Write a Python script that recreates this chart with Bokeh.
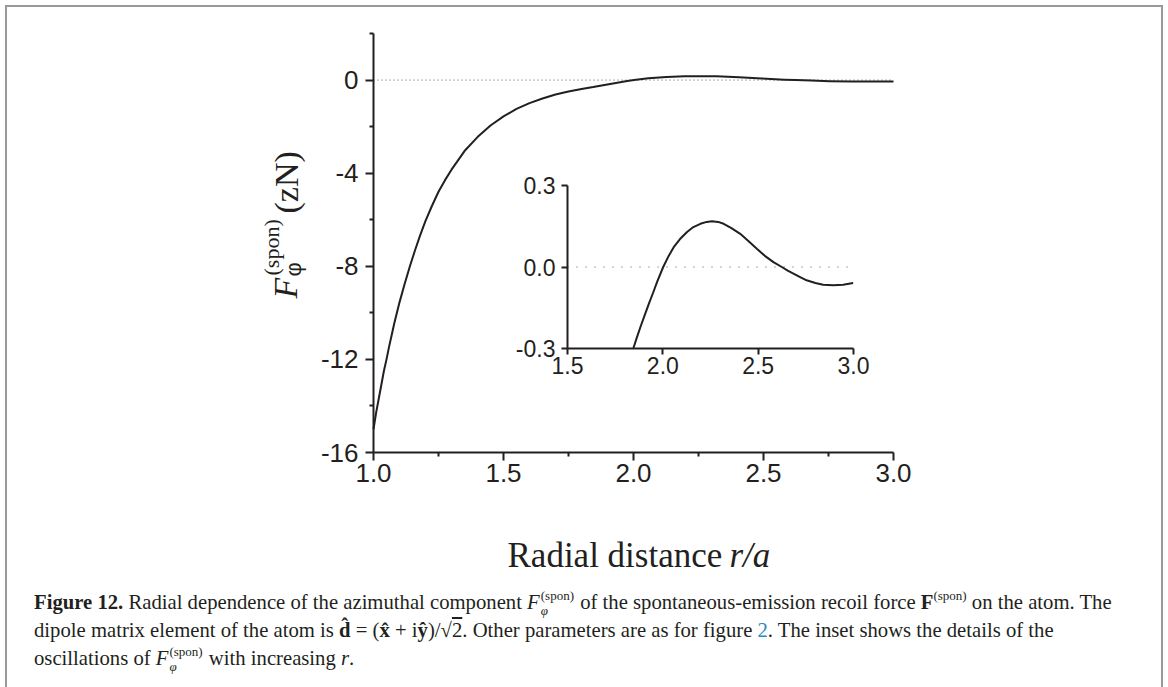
import numpy as np
from bokeh.plotting import figure
from bokeh.models import Range1d, LinearAxis, FixedTicker, PrintfTickFormatter, Label, Div
from bokeh.layouts import column
from bokeh.embed import file_html
from bokeh.resources import INLINE

# ---------------- data ----------------
main_r = [1.00, 1.01, 1.02, 1.03, 1.04, 1.05, 1.06, 1.07, 1.08, 1.09, 1.10, 1.12, 1.14,
          1.16, 1.18, 1.20, 1.225, 1.25, 1.275, 1.30, 1.35, 1.40, 1.45, 1.50, 1.55, 1.60,
          1.65, 1.70, 1.75, 1.80, 1.845, 1.883, 1.927, 1.970, 2.002, 2.057, 2.127, 2.197,
          2.258, 2.319, 2.406, 2.493, 2.580, 2.624, 2.685, 2.754, 2.841, 2.894, 2.946, 3.00]
main_f = [-15.0, -14.3, -13.7, -13.1, -12.5, -12.0, -11.45, -10.95, -10.45, -10.0, -9.55,
          -8.75, -8.0, -7.3, -6.65, -6.05, -5.4, -4.8, -4.3, -3.85, -3.05, -2.45, -1.95, -1.56,
          -1.24, -0.99, -0.79, -0.62, -0.49, -0.38, -0.300, -0.220, -0.135, -0.055, 0.000,
          0.073, 0.129, 0.159, 0.168, 0.159, 0.122, 0.067, 0.018, 0.000, -0.024, -0.049,
          -0.065, -0.067, -0.065, -0.059]

inset_r = [1.845, 1.864, 1.883, 1.905, 1.927, 1.950, 1.970, 2.002, 2.030, 2.057, 2.090,
           2.127, 2.160, 2.197, 2.230, 2.258, 2.290, 2.319, 2.360, 2.406, 2.450, 2.493,
           2.535, 2.580, 2.624, 2.655, 2.685, 2.720, 2.754, 2.800, 2.841, 2.894, 2.946, 2.998]
inset_f = [-0.300, -0.259, -0.220, -0.177, -0.135, -0.093, -0.055, 0.000, 0.040, 0.073,
           0.103, 0.129, 0.147, 0.159, 0.166, 0.168, 0.166, 0.159, 0.143, 0.122, 0.095,
           0.067, 0.041, 0.018, 0.000, -0.013, -0.024, -0.037, -0.049, -0.059, -0.065,
           -0.067, -0.065, -0.059]

main_xticks = [1.0, 1.5, 2.0, 2.5, 3.0]
main_xminor = [1.25, 1.75, 2.25, 2.75]
main_yticks = [-16, -12, -8, -4, 0]
main_yminor = [-14, -10, -6, -2, 2]
inset_xticks = [1.5, 2.0, 2.5, 3.0]
inset_yticks = [-0.3, 0.0, 0.3]

x_title = "Radial distance"
x_title_it = "r/a"
y_title_f = "F"
y_title_sub = "\u03c6"
y_title_sup = "(spon)"
y_title_unit = "(zN)"

# ---------------- layout constants (page pixels) ----------------
INK = "#231f20"
W, H = 1168, 687
OX = 7                                # inside of the grey frame box
FL, FR, FT, FB = 373, 893, 33, 452    # main axes box
IL, IR, IT, IB = 567, 853, 185, 348   # inset axes box
PH = 580
PW = W - 2 * OX

def make_range(v0, c0, v1, c1, length, flip=False):
    # linear map: value v0 at canvas pixel c0, v1 at c1; canvas spans [0, length]
    k = (v1 - v0) / (c1 - c0)
    a = v0 + (0 - c0) * k
    b = v0 + (length - c0) * k
    return Range1d(b, a) if flip else Range1d(a, b)

xr = make_range(main_xticks[0], FL - OX, main_xticks[-1], FR - OX, PW)
yr = make_range(main_yminor[-1], FT - OX, main_yticks[0], FB - OX, PH, flip=True)

def px2x(px):
    return main_xticks[0] + (px - FL) * (main_xticks[-1] - main_xticks[0]) / (FR - FL)

def py2y(py):
    return main_yminor[-1] + (py - FT) * (main_yticks[0] - main_yminor[-1]) / (FB - FT)

p = figure(width=PW, height=PH, x_range=xr, y_range=yr,
           x_axis_location=None, y_axis_location=None,
           output_backend="svg", toolbar_location=None, min_border=0)
p.margin = (0, 0, 0, 0)
for g in p.grid:
    g.visible = False
p.outline_line_color = None
p.background_fill_color = "white"
p.border_fill_color = "white"

def style_axis(ax, fsize, tick_out, minor_out, lw=2):
    ax.axis_line_width = lw
    ax.axis_line_color = INK
    ax.major_tick_line_width = lw
    ax.minor_tick_line_width = lw
    ax.major_tick_line_color = INK
    ax.minor_tick_line_color = INK
    ax.major_tick_out = tick_out
    ax.major_tick_in = 0
    ax.minor_tick_out = minor_out
    ax.minor_tick_in = 0
    ax.major_label_text_font = "Liberation Sans"
    ax.major_label_text_font_size = fsize
    ax.major_label_text_color = INK

xa = LinearAxis(fixed_location=main_yticks[0], bounds=(main_xticks[0], main_xticks[-1]),
                ticker=FixedTicker(ticks=main_xticks, minor_ticks=main_xminor),
                formatter=PrintfTickFormatter(format="%.1f"))
style_axis(xa, "26px", 8, 4)
xa.major_label_standoff = 3
p.add_layout(xa, "below")

ya = LinearAxis(fixed_location=main_xticks[0], bounds=(main_yticks[0], main_yminor[-1]),
                ticker=FixedTicker(ticks=main_yticks, minor_ticks=main_yminor),
                formatter=PrintfTickFormatter(format="%d"))
style_axis(ya, "26px", 8, 4)
ya.major_label_standoff = 7
p.add_layout(ya, "left")

# zero reference line and curve
p.line([main_xticks[0], main_xticks[-1]], [0, 0], line_color="#555555", line_width=1,
       line_dash="1 3")
p.line(main_r, main_f, line_width=2, line_color=INK, line_join="round")

# ---------------- inset, drawn on its own ranges ----------------
p.extra_x_ranges = {"ix": make_range(inset_xticks[0], IL - OX, inset_xticks[-1], IR - OX, PW)}
p.extra_y_ranges = {"iy": make_range(inset_yticks[-1], IT - OX, inset_yticks[0], IB - OX, PH,
                                     flip=True)}

iax = LinearAxis(x_range_name="ix", y_range_name="iy", fixed_location=inset_yticks[0],
                 bounds=(inset_xticks[0], inset_xticks[-1]),
                 ticker=FixedTicker(ticks=inset_xticks, minor_ticks=[]),
                 formatter=PrintfTickFormatter(format="%.1f"))
style_axis(iax, "23px", 6, 0)
iax.major_label_standoff = 2
p.add_layout(iax, "below")

iay = LinearAxis(x_range_name="ix", y_range_name="iy", fixed_location=inset_xticks[0],
                 bounds=(inset_yticks[0], inset_yticks[-1]),
                 ticker=FixedTicker(ticks=inset_yticks, minor_ticks=[]),
                 formatter=PrintfTickFormatter(format="%.1f"))
style_axis(iay, "23px", 6, 0)
iay.major_label_standoff = 6
p.add_layout(iay, "left")

p.line([inset_xticks[0], inset_xticks[-1]], [0, 0], x_range_name="ix", y_range_name="iy",
       line_color="#555555", line_width=1, line_dash="1 8")
p.line(inset_r, inset_f, x_range_name="ix", y_range_name="iy", line_width=2, line_color=INK,
       line_join="round")

# ---------------- axis titles ----------------
SERIF = "Liberation Serif"
p.add_layout(Label(x=px2x(507), y=py2y(555), text=x_title, text_font=SERIF,
                   text_font_size="35px", text_color=INK, text_baseline="alphabetic"))
p.add_layout(Label(x=px2x(729), y=py2y(555), text=x_title_it, text_font=SERIF,
                   text_font_style="italic", text_font_size="35px", text_color=INK,
                   text_baseline="alphabetic"))

A = np.pi / 2
p.add_layout(Label(x=px2x(285), y=py2y(298), text=y_title_f, angle=A, text_font=SERIF,
                   text_font_style="italic", text_font_size="34px", text_color=INK,
                   text_baseline="alphabetic"))
p.add_layout(Label(x=px2x(293), y=py2y(276), text=y_title_sub, angle=A,
                   text_font="Liberation Sans", text_font_size="22px", text_color=INK,
                   text_baseline="alphabetic"))
p.add_layout(Label(x=px2x(271), y=py2y(275), text=y_title_sup, angle=A, text_font=SERIF,
                   text_font_size="22px", text_color=INK, text_baseline="alphabetic"))
p.add_layout(Label(x=px2x(285.5), y=py2y(213), text=y_title_unit, angle=A, text_font=SERIF,
                   text_font_size="34px", text_color=INK, text_baseline="alphabetic"))

# ---------------- caption ----------------
FPHI = ('<i>F</i><span style="display:inline-block;position:relative;font-size:13px;'
        'line-height:13px;margin-left:1px;margin-right:1px">'
        '<span style="position:relative;top:-9px">(spon)</span>'
        '<i style="position:absolute;left:0px;top:6px">\u03c6</i></span>')
SUP = '<span style="position:relative;top:-9px;font-size:13px">(spon)</span>'
line1 = ('<b>Figure 12.</b> Radial dependence of the azimuthal component ' + FPHI +
         ' of the spontaneous-emission recoil force <b>F</b>' + SUP + ' on the atom. The')
line2 = ('dipole matrix element of the atom is <b>d\u0302</b> = (<b>x\u0302</b> + i<b>y\u0302</b>)'
         '/\u221a<span style="text-decoration:overline">2</span>. Other parameters are as for figure '
         '<span style="color:#2a8ac4">2</span>. The inset shows the details of the')
line3 = 'oscillations of ' + FPHI + ' with increasing <i>r</i>.'

CAP_FS = 20.7
def line_div(baseline, html):
    top = baseline - (PH + OX) - 0.8375 * CAP_FS
    return ('<div style="position:absolute;left:27px;top:%.1fpx;white-space:nowrap;'
            'line-height:%.1fpx">%s</div>' % (top, CAP_FS, html))

cap_html = ('<div style="position:relative;width:%dpx;height:100px;font-family:\'Liberation Serif\';'
            'font-size:%.1fpx;color:%s">' % (PW, CAP_FS, INK) +
            line_div(609, line1) + line_div(637, line2) + line_div(665, line3) + '</div>')
cap = Div(text=cap_html, width=PW, height=H - PH - OX, margin=(0, 0, 0, 0))

root = column(p, cap, styles={"border": "2px solid #999999", "margin": "5px"})

open("out.html", "w").write(file_html(root, INLINE))
